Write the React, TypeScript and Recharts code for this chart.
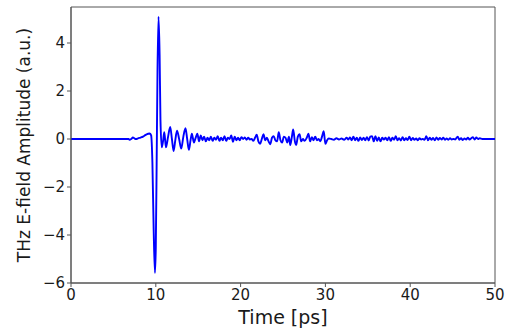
import React from 'react';
import { LineChart, Line, XAxis, YAxis, ReferenceArea } from 'recharts';

const times: number[] = [
  0, 6.8, 6.9, 7.1, 7.3, 7.5, 7.7, 7.9, 8.2, 8.5, 8.8, 9.1, 9.3, 9.45, 9.6, 9.75, 9.9, 10.0, 10.1, 10.2, 10.32, 10.45, 10.55, 10.7, 10.85,
  11.0, 11.2, 11.45, 11.7, 11.9, 12.1, 12.3, 12.5, 12.75, 13.0, 13.25, 13.5, 13.7, 13.9, 14.1, 14.25, 14.5, 14.7, 14.9, 15.1, 15.3, 15.5, 15.7, 15.9,
  16.1, 16.3, 16.5, 16.7, 16.9, 17.1, 17.3, 17.5, 17.7, 17.9, 18.1, 18.3, 18.5, 18.7, 18.9, 19.1, 19.3, 19.5, 19.7, 19.9,
  20.1, 20.3, 20.5, 20.7, 20.9, 21.1, 21.3, 21.5, 21.7, 21.9, 22.1, 22.3, 22.5, 22.7, 22.9, 23.1, 23.3, 23.5, 23.7, 23.9,
  24.1, 24.3, 24.5, 24.7, 24.9, 25.1, 25.3, 25.5, 25.7, 25.85, 26.05, 26.2, 26.4, 26.55, 26.75, 26.95, 27.15, 27.35, 27.55, 27.8,
  28.0, 28.2, 28.4, 28.6, 28.8, 29.0, 29.2, 29.4, 29.6, 29.8, 30.0, 30.2, 30.4, 30.7, 31.0, 31.3, 31.6, 31.9, 32.2, 32.5, 32.7, 32.9,
  33.1, 33.3, 33.5, 33.7, 33.9, 34.1, 34.3, 34.5, 34.7, 34.9, 35.1, 35.3, 35.5, 35.7, 35.9, 36.1, 36.3, 36.5, 36.7, 36.9,
  37.1, 37.3, 37.5, 37.7, 37.9, 38.1, 38.3, 38.5, 38.7, 38.9, 39.1, 39.3, 39.5, 39.7, 39.9, 40.1, 40.3, 40.5, 40.7, 40.9,
  41.1, 41.3, 41.5, 41.7, 41.9, 42.1, 42.3, 42.5, 42.7, 42.9, 43.1, 43.3, 43.5, 43.7, 43.9, 44.1, 44.3, 44.5, 44.7, 44.9,
  45.1, 45.3, 45.6, 45.8, 46.0, 46.2, 46.4, 46.6, 46.8, 47.0, 47.2, 47.4, 47.6, 47.8, 48.0, 48.2, 48.5, 50,
];

const amplitudes: number[] = [
  0, 0, -0.03, 0.0, 0.06, 0.02, 0.0, 0.03, 0.06, 0.1, 0.17, 0.22, 0.23, 0.15, -1.0, -3.8, -5.58, -4.5, -1.0, 2.8, 5.1, 3.5, 0.8, -0.35, -0.1,
  0.28, -0.35, 0.1, 0.5, 0.0, -0.5, -0.05, 0.35, 0.0, -0.4, 0.1, 0.45, 0.0, -0.45, -0.05, 0.22, -0.15, 0.05, 0.22, -0.1, 0.15, -0.05, 0.1, -0.1,
  0.05, -0.05, 0.1, -0.08, 0.05, -0.03, 0.12, -0.08, 0.05, -0.05, 0.12, -0.08, 0.05, 0.0, 0.15, -0.12, 0.1, -0.05, 0.05, -0.05,
  0.08, 0.0, 0.06, -0.03, 0.05, -0.02, 0.0, -0.08, 0.05, 0.18, -0.1, -0.2, 0.0, 0.2, -0.05, 0.05, -0.1, -0.22, 0.05, 0.12,
  -0.05, -0.1, 0.28, -0.05, -0.15, 0.1, 0.05, -0.15, 0.1, -0.25, 0.1, 0.4, -0.1, -0.25, 0.1, 0.2, -0.1, 0.0, -0.08, 0.05,
  0.22, -0.1, 0.08, -0.05, 0.1, -0.05, 0.0, -0.1, 0.1, 0.32, -0.2, -0.05, 0.02, 0.0, -0.03, 0.03, -0.02, 0.02, -0.03, 0.05, -0.02, 0.06,
  -0.05, 0.1, -0.05, 0.05, -0.08, 0.06, -0.04, 0.05, -0.05, 0.08, -0.06, 0.1, 0.12, -0.1, 0.12, -0.08, 0.06, -0.1, 0.05, -0.02,
  0.05, -0.05, 0.08, -0.08, 0.05, -0.03, 0.12, -0.05, 0.03, -0.06, 0.08, -0.05, 0.03, -0.04, 0.1, -0.05, 0.04, -0.03, 0.02, -0.05,
  0.03, -0.02, 0.0, -0.03, 0.12, -0.05, 0.05, -0.03, 0.04, -0.05, 0.06, -0.03, 0.04, -0.02, 0.05, -0.03, 0.02, -0.03, 0.03, -0.02,
  0.0, -0.02, 0.1, -0.03, 0.03, -0.04, 0.02, -0.02, 0.05, -0.02, 0.03, 0.08, -0.02, 0.06, 0.0, 0.03, 0.0, 0,
];

const xTicks: number[] = [0, 10, 20, 30, 40, 50];
const yTicks: number[] = [-6, -4, -2, 0, 2, 4];

const data = times.map((t, i) => ({ t, a: amplitudes[i] }));

const font = 'DejaVu Sans, sans-serif';
const axisColor = '#555';
const textColor = '#1a1a1a';

export default function App() {
  return (
    <div style={{ position: 'absolute', left: 0, top: 0, background: '#fff' }}>
      <LineChart width={509} height={329} data={data} margin={{ top: 7, right: 14, bottom: 0, left: 0 }}>
        <XAxis
          dataKey="t"
          type="number"
          domain={[0, 50]}
          ticks={xTicks}
          height={46}
          stroke={axisColor}
          tickSize={4}
          tick={{ fill: textColor, fontSize: 15, fontFamily: font }}
          tickMargin={2}
          allowDataOverflow
          label={{ value: 'Time [ps]', position: 'insideBottom', offset: 5, style: { fill: textColor, fontSize: 19, fontFamily: font } }}
        />
        <YAxis
          type="number"
          domain={[-6, 5.5]}
          ticks={yTicks}
          width={71}
          stroke={axisColor}
          tickSize={4}
          tickMargin={2}
          allowDataOverflow
          tickFormatter={(v: number) => String(v).replace('-', '\u2212')}
          tick={{ fill: textColor, fontSize: 15, fontFamily: font }}
          label={{ value: 'THz E-field Amplitude (a.u.)', angle: -90, position: 'insideLeft', offset: 24, style: { textAnchor: 'middle', fill: textColor, fontSize: 17, fontFamily: font } }}
        />
        <ReferenceArea x1={0} x2={50} y1={-6} y2={5.5} fill="none" stroke={axisColor} strokeWidth={1} ifOverflow="visible" />
        <Line type="monotone" dataKey="a" stroke="#0000ff" strokeWidth={1.9} dot={false} isAnimationActive={false} />
      </LineChart>
    </div>
  );
}
